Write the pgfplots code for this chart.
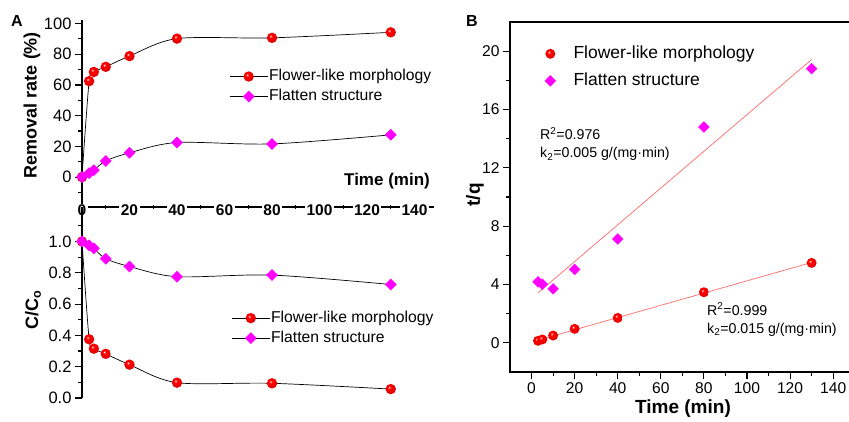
\documentclass[border=0pt]{standalone}
\usepackage{fontspec}
\setmainfont{Liberation Sans}
\usepackage{pgfplots}
\pgfplotsset{compat=1.18}
\definecolor{mag}{RGB}{255,0,255}
\definecolor{fitred}{RGB}{255,105,105}
\pgfdeclareradialshading{redball}{\pgfpoint{-8bp}{9bp}}{color(0bp)=(white); color(2bp)=(red!35!white); color(7bp)=(red); color(20bp)=(red!94!black); color(28bp)=(red!82!black); color(50bp)=(red!82!black)}
\pgfdeclareplotmark{rball}{\pgfpathcircle{\pgfpointorigin}{\pgfplotmarksize}\pgfshadepath{redball}{0}\pgfusepath{discard}}
\begin{document}
\begin{tikzpicture}[x=1pt,y=1pt]
\path[use as bounding box] (0,0) rectangle (849,421);
\pgfplotsset{
  every axis/.append style={
    scale only axis, clip=false,
    axis line style={line width=1.1pt},
    tick style={line width=1.1pt, black},
    major tick length=7pt, minor tick length=4pt,
    /pgf/number format/assume math mode=true,
  },
  aleg/.style={
    legend image code/.code={\draw[mark repeat=2,mark phase=2,##1] plot coordinates {(0pt,0pt)(19pt,0pt)(38pt,0pt)};},
    legend cell align=left,
    legend style={draw=none, fill=none, anchor=north west, row sep=0pt,
      font=\fontsize{15.7}{18}\selectfont,
      nodes={inner sep=1pt, text height=13pt, text depth=5pt}},
  },
}
% ---------- Panel A top ----------
\begin{axis}[
  at={(82pt,214pt)}, anchor=south west,
  width=351.5pt, height=186.5pt,
  xmin=0, xmax=148, ymin=-19.5, ymax=102,
  axis x line*=bottom, axis y line*=left,
  xtick={0,20,...,140}, minor xtick={10,30,...,130},
  ytick={0,20,...,100}, minor ytick={-10,10,30,50,70,90},
  ytick align=outside, xtick align=center,
  major x tick style={draw=none},
  minor x tick style={line width=1.1pt},
  yticklabel style={font=\fontsize{16.5}{18}\selectfont},
  xticklabel style={font=\fontsize{15.5}{17}\selectfont\bfseries, anchor=center, fill=white, inner sep=1.5pt},
  aleg,
  legend style={at={(rel axis cs:0.41,0.765)}},
]
\addplot[black, line width=0.7pt, smooth, mark=rball, mark size=5.2pt]
  coordinates {(0,0)(3,62.5)(5,68.5)(10,71.8)(20,78.8)(40,90.2)(80,90.7)(130,94.3)};
\addlegendentry{Flower-like morphology}
\addplot[black, line width=0.7pt, smooth, mark=square*, mark size=3.8pt, mark options={rotate=45, fill=mag, draw=mag}]
  coordinates {(0,0)(3,2.5)(5,4.5)(10,10.5)(20,15.8)(40,22.5)(80,21.6)(130,27.5)};
\addlegendentry{Flatten structure}
\end{axis}
% ---------- Panel A bottom ----------
\begin{axis}[
  at={(82pt,23pt)}, anchor=south west,
  width=351.5pt, height=191pt,
  xmin=0, xmax=148, ymin=0, ymax=1.22,
  axis x line=none, axis y line*=left,
  ytick={0,0.2,...,1.0}, minor ytick={0.1,0.3,...,1.1},
  tick align=outside,
  yticklabel style={font=\fontsize{16.5}{18}\selectfont,
    /pgf/number format/.cd, fixed, fixed zerofill, precision=1},
  aleg,
  legend style={at={(rel axis cs:0.416,0.482)}},
]
\addplot[black, line width=0.7pt, smooth, mark=rball, mark size=5.2pt]
  coordinates {(0,1.0)(3,0.375)(5,0.315)(10,0.282)(20,0.213)(40,0.098)(80,0.094)(130,0.057)};
\addlegendentry{Flower-like morphology}
\addplot[black, line width=0.7pt, smooth, mark=square*, mark size=3.8pt, mark options={rotate=45, fill=mag, draw=mag}]
  coordinates {(0,1.0)(3,0.975)(5,0.955)(10,0.89)(20,0.84)(40,0.775)(80,0.785)(130,0.725)};
\addlegendentry{Flatten structure}
\end{axis}
% ---------- Panel B ----------
\begin{axis}[
  at={(510pt,49pt)}, anchor=south west,
  width=340.4pt, height=350pt,
  xmin=-10, xmax=148, ymin=-2, ymax=22,
  xtick={0,20,...,140}, minor xtick={10,30,...,130},
  ytick={0,4,...,20}, minor ytick={2,6,...,18},
  tick align=outside, tick pos=left,
  tick label style={font=\fontsize{15.6}{18}\selectfont},
  legend image code/.code={\path (0pt,0pt) (30pt,0pt); \draw[#1] plot coordinates {(8pt,0pt)};},
  legend cell align=left,
  legend style={draw=none, fill=none, anchor=north west, row sep=0pt,
    at={(rel axis cs:0.085,0.954)},
    font=\fontsize{17.5}{20}\selectfont,
    nodes={inner sep=1pt, text height=17pt, text depth=8pt}},
]
\addplot[red, only marks, mark=rball, mark size=5pt]
  coordinates {(3,0.14)(5,0.23)(10,0.5)(20,0.96)(40,1.71)(80,3.47)(130,5.48)};
\addlegendentry{Flower-like morphology}
\addplot[only marks, mark=square*, mark size=3.8pt, mark options={rotate=45, fill=mag, draw=mag}]
  coordinates {(3,4.18)(5,4.02)(10,3.70)(20,5.03)(40,7.12)(80,14.8)(130,18.8)};
\addlegendentry{Flatten structure}
\addplot[fitred, line width=0.7pt, forget plot] coordinates {(3,0.18)(130,5.51)};
\addplot[fitred, line width=0.7pt, forget plot] coordinates {(3,3.43)(130,19.43)};
\end{axis}
% ---------- texts ----------
\node[font=\fontsize{16}{18}\selectfont\bfseries] at (17,400) {A};
\node[font=\fontsize{16}{18}\selectfont\bfseries] at (472,400) {B};
\node[font=\fontsize{18}{20}\selectfont\bfseries, rotate=90] at (32,316) {Removal rate (\%)};
\node[font=\fontsize{18}{20}\selectfont\bfseries, rotate=90] at (33,111) {C/C\textsubscript{o}};
\node[font=\fontsize{17}{20}\selectfont\bfseries] at (387,240) {Time (min)};
\node[font=\fontsize{19}{22}\selectfont\bfseries] at (683,12) {Time (min)};
\node[font=\fontsize{19}{22}\selectfont\bfseries, rotate=90] at (475,226) {t/q};
\node[font=\fontsize{14.2}{17}\selectfont, anchor=base west, inner sep=0pt] at (540,281) {R\textsuperscript{2}=0.976};
\node[font=\fontsize{14.2}{17}\selectfont, anchor=base west, inner sep=0pt] at (540,263) {k\textsubscript{2}=0.005 g/(mg·min)};
\node[font=\fontsize{14.2}{17}\selectfont, anchor=base west, inner sep=0pt] at (707,106) {R\textsuperscript{2}=0.999};
\node[font=\fontsize{14.2}{17}\selectfont, anchor=base west, inner sep=0pt] at (707,88) {k\textsubscript{2}=0.015 g/(mg·min)};
\end{tikzpicture}
\end{document}
